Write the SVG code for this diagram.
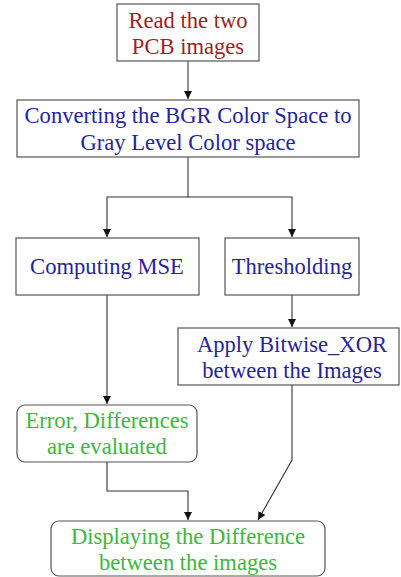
<svg xmlns="http://www.w3.org/2000/svg" width="401" height="577" viewBox="0 0 401 577">
  <style>
    .box { fill: #fff; stroke: #555; stroke-width: 1.2; }
    .wire { fill: none; stroke: #333; stroke-width: 1.1; }
    text { font-family: "Liberation Serif", "Times New Roman", serif; font-size: 22.6px; text-anchor: middle; }
    .red { fill: #9e1f24; }
    .blue { fill: #25259a; }
    .green { fill: #3cb83c; }
  </style>
  <defs>
    <marker id="arrow" viewBox="0 0 10 10" refX="10" refY="5" markerWidth="8" markerHeight="8" markerUnits="userSpaceOnUse" orient="auto">
      <path d="M0,0 L10,5 L0,10 z" fill="#111"/>
    </marker>
  </defs>
  <rect width="401" height="577" fill="#fff"/>

  <g id="connectors">
    <path class="wire" d="M188,61 V99" marker-end="url(#arrow)"/>
    <path class="wire" d="M188,157 V197 H107 V237" marker-end="url(#arrow)"/>
    <path class="wire" d="M188,197 H292 V237" marker-end="url(#arrow)"/>
    <path class="wire" d="M292,295 V327" marker-end="url(#arrow)"/>
    <path class="wire" d="M107,295 V404" marker-end="url(#arrow)"/>
    <path class="wire" d="M107,462 V491 H188 V520" marker-end="url(#arrow)"/>
    <path class="wire" d="M292,385 V460 L258,520" marker-end="url(#arrow)"/>
  </g>

  <g id="read">
    <rect class="box" x="117" y="4" width="142" height="57"/>
    <text class="red" x="188" y="28">Read the two</text>
    <text class="red" x="188" y="54">PCB images</text>
  </g>

  <g id="convert">
    <rect class="box" x="17" y="100" width="342" height="57"/>
    <text class="blue" x="188" y="123">Converting the BGR Color Space to</text>
    <text class="blue" x="188" y="150">Gray Level Color space</text>
  </g>

  <g id="mse">
    <rect class="box" x="16" y="238" width="183" height="57"/>
    <text class="blue" x="107" y="274">Computing MSE</text>
  </g>

  <g id="threshold">
    <rect class="box" x="225" y="238" width="134" height="57"/>
    <text class="blue" x="292" y="274">Thresholding</text>
  </g>

  <g id="xor">
    <rect class="box" x="178" y="328" width="221" height="57"/>
    <text class="blue" x="292" y="352">Apply Bitwise_XOR</text>
    <text class="blue" x="292" y="378">between the Images</text>
  </g>

  <g id="error">
    <rect class="box" x="17" y="405" width="180" height="57" rx="8"/>
    <text class="green" x="107" y="428">Error, Differences</text>
    <text class="green" x="107" y="454">are evaluated</text>
  </g>

  <g id="display">
    <rect class="box" x="51" y="521" width="274" height="55" rx="8"/>
    <text class="green" x="188" y="544">Displaying the Difference</text>
    <text class="green" x="188" y="570">between the images</text>
  </g>
</svg>
